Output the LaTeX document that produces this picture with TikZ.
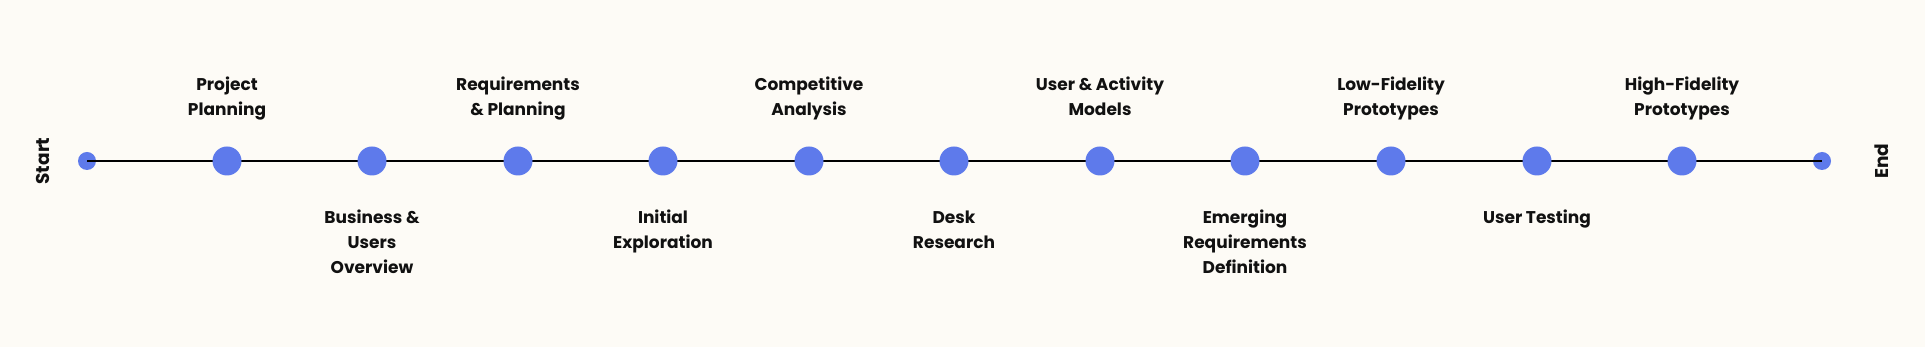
\documentclass[tikz,border=0pt]{standalone}
\usepackage{fontspec}
\setmainfont{Poppins}
\definecolor{bgc}{HTML}{FDFBF6}
\definecolor{dotc}{HTML}{5E7AEB}
\definecolor{txtc}{HTML}{111111}
\begin{document}
\begin{tikzpicture}[x=1pt,y=1pt,
  bigdot/.style={circle,fill=dotc,inner sep=0pt,minimum size=29pt},
  smalldot/.style={circle,fill=dotc,inner sep=0pt,minimum size=18pt},
  lab/.style={anchor=north,align=center,inner sep=0pt,text=txtc,font=\fontsize{17}{25}\selectfont\bfseries},
  endlabel/.style={rotate=90,inner sep=0pt,text=txtc,font=\fontsize{18.5}{25}\selectfont\bfseries},
  tline/.style={line width=1.8pt,black}]
\fill[bgc] (0,0) rectangle (1925,347);
\useasboundingbox (0,0) rectangle (1925,347);
\def\ly{186}
\def\ty{274.5}
\def\by{141.5}
\node[smalldot] (s) at (87,\ly) {};
\node[smalldot] (e) at (1822,\ly) {};
\foreach \i/\x in {1/227,2/372,3/518,4/663,5/809,6/954,7/1100,8/1245,9/1391,10/1537,11/1682}{
  \coordinate (c\i) at (\x,\ly);
}
\draw[tline] (s.center) -- (e.center);
\foreach \i in {1,...,11}{
  \node[bigdot] (d\i) at (c\i) {};
}
\node[endlabel] (startl) at (43,\ly) {Start};
\node[endlabel] (endl) at (1882,\ly) {End};
% top labels
\node[lab] (l1) at (227,\ty) {\strut Project\\Planning};
\node[lab] (l3) at (518,\ty) {\strut Requirements\\\& Planning};
\node[lab] (l5) at (809,\ty) {\strut Competitive\\Analysis};
\node[lab] (l7) at (1100,\ty) {\strut User \& Activity\\Models};
\node[lab] (l9) at (1391,\ty) {\strut Low-Fidelity\\Prototypes};
\node[lab] (l11) at (1682,\ty) {\strut High-Fidelity\\Prototypes};
% bottom labels
\node[lab] (l2) at (372,\by) {\strut Business \&\\Users\\Overview};
\node[lab] (l4) at (663,\by) {\strut Initial\\Exploration};
\node[lab] (l6) at (954,\by) {\strut Desk\\Research};
\node[lab] (l8) at (1245,\by) {\strut Emerging\\Requirements\\Definition};
\node[lab] (l10) at (1537,\by) {\strut User Testing};
\end{tikzpicture}
\end{document}
